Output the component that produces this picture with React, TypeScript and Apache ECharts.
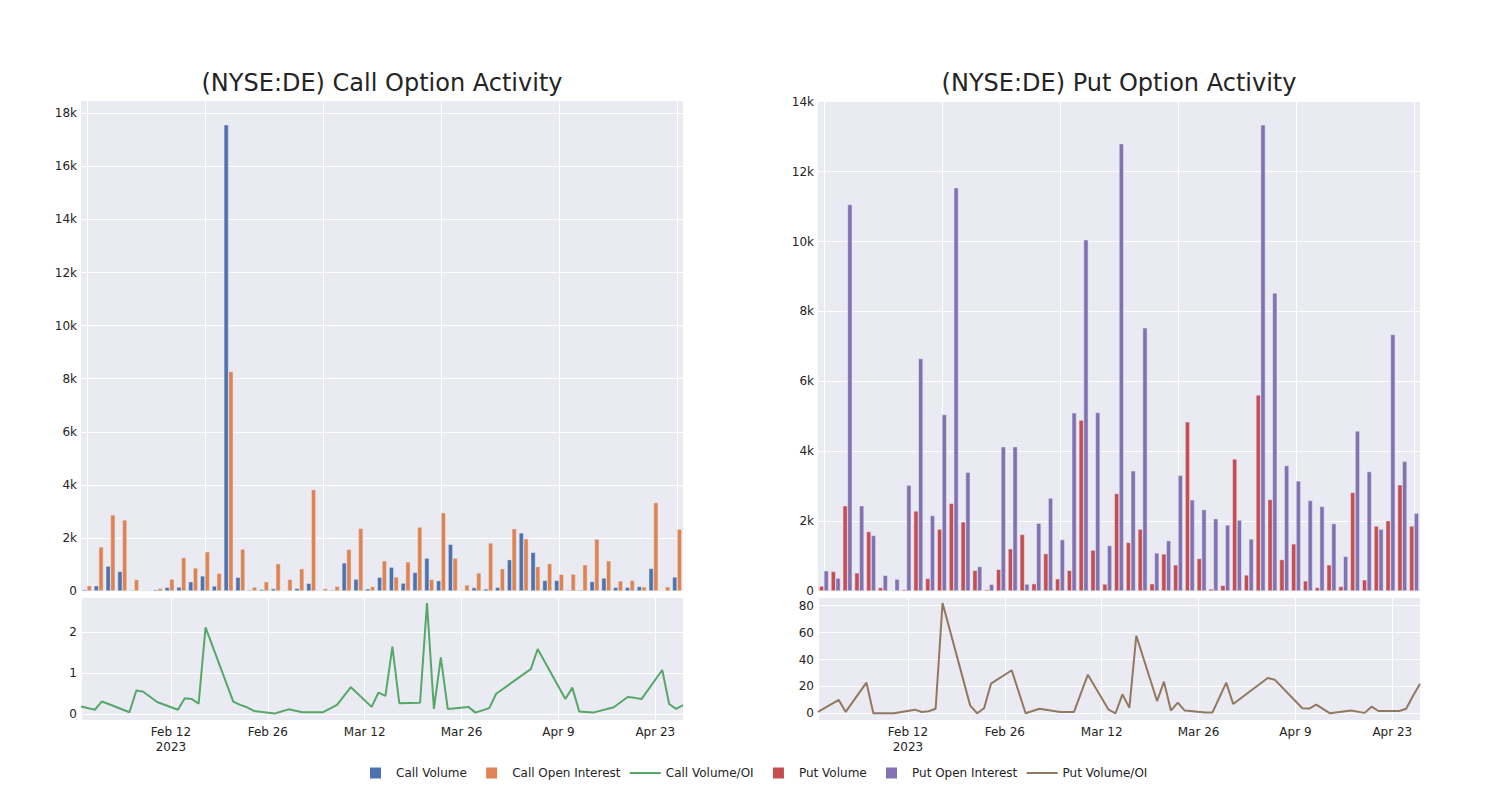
import React, { useEffect, useRef } from 'react';
import * as echarts from 'echarts';

// ---------- data ----------
const dates = [
  '2023-01-30', '2023-02-01', '2023-02-02', '2023-02-03', '2023-02-06', '2023-02-07', '2023-02-08', '2023-02-10',
  '2023-02-13', '2023-02-14', '2023-02-15', '2023-02-16', '2023-02-17', '2023-02-21', '2023-02-22', '2023-02-23',
  '2023-02-24', '2023-02-27', '2023-03-01', '2023-03-03', '2023-03-06', '2023-03-08', '2023-03-10', '2023-03-13',
  '2023-03-14', '2023-03-15', '2023-03-16', '2023-03-17', '2023-03-20', '2023-03-21', '2023-03-22', '2023-03-23',
  '2023-03-24', '2023-03-27', '2023-03-28', '2023-03-30', '2023-03-31', '2023-04-05', '2023-04-06', '2023-04-10',
  '2023-04-11', '2023-04-12', '2023-04-14', '2023-04-17', '2023-04-19', '2023-04-20', '2023-04-21', '2023-04-24',
  '2023-04-25', '2023-04-26', '2023-04-27',
];

const callVolume = [
  50, 200, 940, 740, 30, 7, 50, 140, 150, 350, 570, 190, 17570, 520, 40, 60,
  90, 10, 100, 290, 5, 40, 1060, 450, 85, 520, 900, 300, 700, 1240, 390, 1760,
  25, 130, 80, 140, 1180, 2190, 1460, 400, 400, 40, 40, 360, 490, 140, 140, 170,
  850, 20, 530,
];
const callOpenInterest = [
  200, 1660, 2870, 2680, 430, 12, 100, 450, 1260, 870, 1480, 670, 8270, 1580, 150, 350,
  1030, 440, 840, 3820, 90, 180, 1570, 2360, 170, 1140, 530, 1100, 2410, 440, 2950, 1240,
  230, 680, 1810, 840, 2350, 1970, 920, 1030, 630, 640, 990, 1960, 1140, 380, 400, 155,
  3330, 160, 2330,
];
const callRatio = [
  0.19, 0.11, 0.31, 0.25, 0.05, 0.58, 0.55, 0.30, 0.11, 0.39, 0.37, 0.26, 2.12, 0.31, 0.23, 0.17,
  0.08, 0.02, 0.12, 0.05, 0.05, 0.23, 0.66, 0.18, 0.53, 0.45, 1.65, 0.27, 0.28, 2.71, 0.13, 1.39,
  0.13, 0.18, 0.04, 0.15, 0.50, 1.10, 1.59, 0.37, 0.65, 0.07, 0.04, 0.17, 0.42, 0.40, 0.37, 1.08,
  0.25, 0.13, 0.22,
];
const putVolume = [
  140, 560, 2440, 520, 1700, 100, 10, 40, 2290, 360, 1770, 2510, 1980, 590, 40, 620,
  1210, 1620, 210, 1070, 350, 590, 4890, 1170, 200, 2790, 1390, 1770, 210, 1060, 750, 4840,
  930, 60, 160, 3780, 460, 5610, 2620, 900, 1350, 290, 100, 750, 130, 2820, 320, 1860,
  2010, 3040, 1860,
];
const putOpenInterest = [
  580, 370, 11060, 2440, 1590, 450, 340, 3030, 6650, 2160, 5050, 11540, 3400, 700, 190, 4130,
  4130, 200, 1940, 2660, 1470, 5100, 10050, 5110, 1300, 12800, 3440, 7530, 1090, 1440, 3310, 2610,
  2330, 2070, 1890, 2030, 1490, 13340, 8530, 3590, 3150, 2590, 2420, 1930, 990, 4580, 3420, 1770,
  7340, 3710, 2230,
];
const putRatio = [
  1, 7, 9.9, 1, 22.8, 0, 0, 0, 2.7, 1, 1.5, 3.4, 82, 5.7, 0, 3.7,
  22, 32, 0, 3.4, 1, 1, 28.7, 2.7, 0, 14, 4.2, 57.7, 9.1, 23.5, 2, 7.9,
  2, 0.5, 0.5, 22.8, 6.9, 26.2, 25, 3.7, 3.5, 6.4, 0, 2, 0.3, 4.9, 1.7, 1.7,
  3.4, 13, 22,
];

const titles = ['(NYSE:DE) Call Option Activity', '(NYSE:DE) Put Option Activity'];
const seriesNames = ['Call Volume', 'Call Open Interest', 'Call Volume/OI', 'Put Volume', 'Put Open Interest', 'Put Volume/OI'];
const monthNames = ['Jan', 'Feb', 'Mar', 'Apr', 'May', 'Jun', 'Jul', 'Aug', 'Sep', 'Oct', 'Nov', 'Dec'];

// ---------- helpers ----------
const FONT = 'DejaVu Sans';
const TXT = '#242424';
const BG = '#EAEAF2';
const ORIGIN = Date.UTC(2023, 0, 29); // a Sunday: ticks every 14 days fall on Sundays
const DAY = 86400000;
const dayNum = (d: string) => (Date.parse(d) - ORIGIN) / DAY;
const X_MIN = dayNum(dates[0]);
const X_MAX = dayNum(dates[dates.length - 1]);
const TICK_DAYS = 14;
const FIRST_TICK = Math.ceil(X_MIN / TICK_DAYS) * TICK_DAYS;

const dateLabel = (v: number) => {
  const d = new Date(ORIGIN + v * DAY);
  const s = monthNames[d.getUTCMonth()] + ' ' + d.getUTCDate();
  return v === FIRST_TICK ? s + '\n' + d.getUTCFullYear() : s;
};
const kFmt = (v: number) => (v === 0 ? '0' : v / 1000 + 'k');

const labelStyle = { fontFamily: FONT, fontSize: 12, color: TXT };
const gridLine = { show: true, lineStyle: { color: '#ffffff', width: 1 } };
// legend icons: a centred square (with invisible end points so the slot keeps its full width) and a thin line
const SQUARE_ICON = 'path://M0,5.5L0,5.5M10,0H21V11H10ZM31,5.5L31,5.5';
const LINE_ICON = 'path://M0,0H31V2H0Z';

const colors = {
  callVol: '#4C72B0',
  callOI: '#DD8452',
  callRatio: '#55A868',
  putVol: '#C44E52',
  putOI: '#8172B3',
  putRatio: '#937860',
};

function buildOption() {
  const panels = [81, 818];
  const grids = [
    { left: panels[0], top: 100, width: 602, height: 491 },
    { left: panels[0], top: 597, width: 602, height: 123 },
    { left: panels[1], top: 100, width: 602, height: 491 },
    { left: panels[1], top: 597, width: 602, height: 123 },
  ].map((g) => ({ ...g, show: true, backgroundColor: BG, borderWidth: 0, containLabel: false }));

  const barX = (gridIndex: number) => ({
    type: 'category',
    gridIndex,
    data: dates,
    axisLabel: { show: false },
    axisTick: { show: false },
    axisLine: { show: false },
    splitLine: { ...gridLine, interval: 9, alignWithLabel: true },
  });
  const lineX = (gridIndex: number) => ({
    type: 'value',
    gridIndex,
    min: X_MIN,
    max: X_MAX,
    minInterval: TICK_DAYS,
    maxInterval: TICK_DAYS,
    splitNumber: 6,
    axisLine: { show: false },
    axisTick: { show: false },
    splitLine: gridLine,
    axisLabel: {
      ...labelStyle,
      showMinLabel: false,
      showMaxLabel: false,
      margin: 4,
      lineHeight: 15,
      formatter: dateLabel,
    },
  });
  const barY = (gridIndex: number, max: number) => ({
    type: 'value',
    gridIndex,
    min: 0,
    max,
    interval: 2000,
    axisLine: { show: false },
    axisTick: { show: false },
    splitLine: gridLine,
    axisLabel: { ...labelStyle, margin: 4, showMaxLabel: false, formatter: kFmt },
  });
  const lineY = (gridIndex: number, min: number, max: number, step: number) => ({
    type: 'value',
    gridIndex,
    min,
    max,
    minInterval: step,
    maxInterval: step,
    axisLine: { show: false },
    axisTick: { show: false },
    splitLine: gridLine,
    axisLabel: { ...labelStyle, margin: 4, showMinLabel: false, showMaxLabel: false },
  });

  const bar = (name: string, data: number[], color: string, axis: number) => ({
    name,
    type: 'bar',
    xAxisIndex: axis,
    yAxisIndex: axis,
    data,
    barCategoryGap: '20%',
    barGap: '0%',
    itemStyle: { color, borderColor: BG, borderWidth: 0.5 },
  });
  const line = (name: string, values: number[], color: string, axis: number) => ({
    name,
    type: 'line',
    xAxisIndex: axis,
    yAxisIndex: axis,
    data: dates.map((d, i) => [dayNum(d), values[i]]),
    symbol: 'none',
    showSymbol: false,
    lineStyle: { color, width: 2 },
    itemStyle: { color },
  });

  return {
    animation: false,
    backgroundColor: '#ffffff',
    textStyle: { fontFamily: FONT },
    title: titles.map((t, i) => ({
      text: t,
      left: panels[i] + 301,
      top: 71,
      textAlign: 'center',
      padding: 0,
      textStyle: { fontFamily: FONT, fontSize: 24, fontWeight: 'normal', color: TXT },
    })),
    grid: grids,
    xAxis: [barX(0), lineX(1), barX(2), lineX(3)],
    yAxis: [
      barY(0, 18500),
      lineY(1, -0.14, 2.86, 1),
      barY(2, 14050),
      lineY(3, -5, 86.5, 20),
    ],
    legend: {
      data: seriesNames.map((n, i) => ({ name: n, icon: i % 3 === 2 ? LINE_ICON : SQUARE_ICON })),
      left: 355,
      top: 762,
      itemWidth: 31,
      itemHeight: 11,
      itemGap: 9.3,
      symbolKeepAspect: true,
      itemStyle: { borderWidth: 0 },
      lineStyle: { width: 0 },
      textStyle: { ...labelStyle },
    },
    series: [
      bar(seriesNames[0], callVolume, colors.callVol, 0),
      bar(seriesNames[1], callOpenInterest, colors.callOI, 0),
      line(seriesNames[2], callRatio, colors.callRatio, 1),
      bar(seriesNames[3], putVolume, colors.putVol, 2),
      bar(seriesNames[4], putOpenInterest, colors.putOI, 2),
      line(seriesNames[5], putRatio, colors.putRatio, 3),
    ],
  };
}

export default function App() {
  const ref = useRef<HTMLDivElement>(null);
  useEffect(() => {
    if (!ref.current) return;
    const chart = echarts.init(ref.current, undefined, { renderer: 'svg' });
    chart.setOption(buildOption() as any);
    return () => chart.dispose();
  }, []);
  return (
    <div
      ref={ref}
      style={{ position: 'fixed', left: 0, top: 0, width: 1500, height: 800, background: '#fff' }}
    />
  );
}
